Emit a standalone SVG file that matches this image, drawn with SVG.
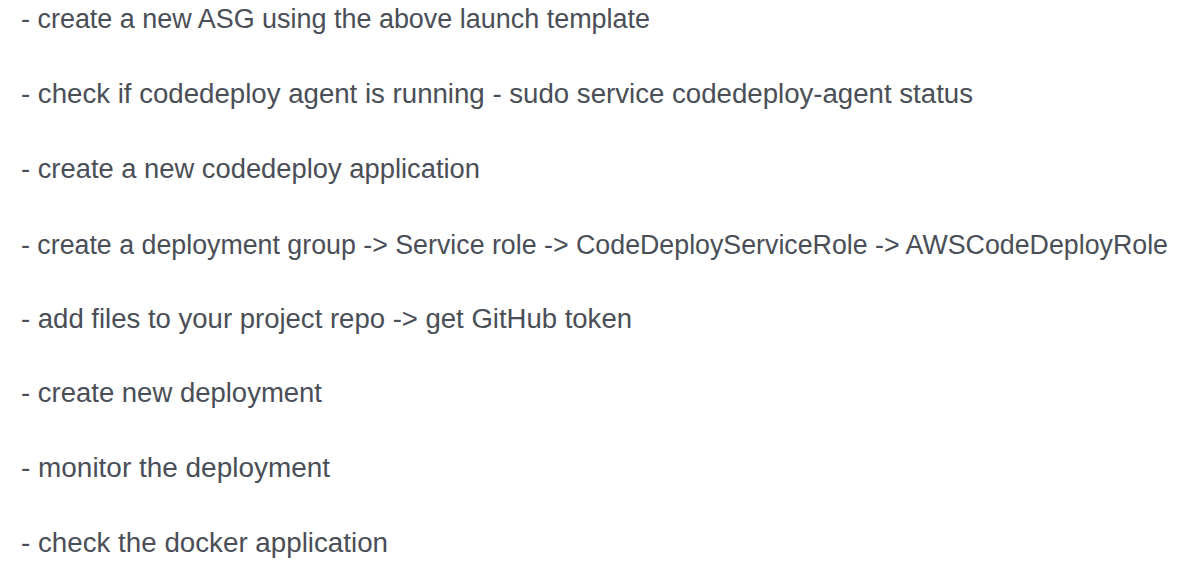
<svg xmlns="http://www.w3.org/2000/svg" width="1181" height="569" viewBox="0 0 1181 569">
<style>
.t{font-family:"Liberation Sans",Arial,sans-serif;font-size:27px;fill:#4a4e57;}
</style>
<rect width="1181" height="569" fill="#ffffff"/>
<g id="step1"><text class="t" x="21" y="28" textLength="629" lengthAdjust="spacingAndGlyphs">- create a new ASG using the above launch template</text></g>
<g id="step2"><text class="t" x="21" y="103" textLength="952" lengthAdjust="spacingAndGlyphs">- check if codedeploy agent is running - sudo service codedeploy-agent status</text></g>
<g id="step3"><text class="t" x="21" y="178" textLength="459" lengthAdjust="spacingAndGlyphs">- create a new codedeploy application</text></g>
<g id="step4"><text class="t" x="21" y="254" textLength="1147" lengthAdjust="spacingAndGlyphs">- create a deployment group -&gt; Service role -&gt; CodeDeployServiceRole -&gt; AWSCodeDeployRole</text></g>
<g id="step5"><text class="t" x="21" y="328" textLength="611" lengthAdjust="spacingAndGlyphs">- add files to your project repo -&gt; get GitHub token</text></g>
<g id="step6"><text class="t" x="21" y="402" textLength="301" lengthAdjust="spacingAndGlyphs">- create new deployment</text></g>
<g id="step7"><text class="t" x="21" y="477" textLength="309" lengthAdjust="spacingAndGlyphs">- monitor the deployment</text></g>
<g id="step8"><text class="t" x="21" y="552" textLength="367" lengthAdjust="spacingAndGlyphs">- check the docker application</text></g>
<g id="connectors"></g>
</svg>
